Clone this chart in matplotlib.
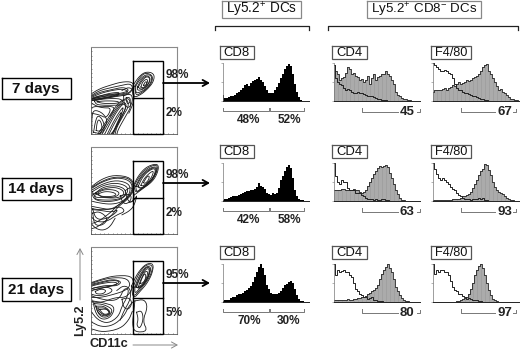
import matplotlib
matplotlib.use("Agg")
import matplotlib.pyplot as plt
import numpy as np

plt.rcParams['font.family'] = ['Liberation Sans', 'DejaVu Sans']
plt.rcParams['mathtext.default'] = 'regular'

# row labels and the numbers printed on the panels
days = ["7 days", "14 days", "21 days"]
gate_hi = ["98%", "98%", "95%"]
gate_lo = ["2%", "2%", "5%"]
cd8_neg = ["48%", "42%", "70%"]
cd8_pos = ["52%", "58%", "30%"]
cd4_pct = ["45", "63", "80"]
f480_pct = ["67", "93", "97"]

# histograms, height in percent of the panel
cd8_hist = [
    [15, 8, 8, 10, 12, 14, 16, 20, 25, 30, 35, 42, 45, 40, 48, 52, 55, 58, 62, 55, 50, 40, 30, 22, 20, 22, 28, 38,
     48, 60, 72, 85, 92, 98, 92, 72, 45, 25, 10, 3, 1, 0, 0, 0],
    [2, 5, 6, 8, 10, 12, 12, 14, 16, 18, 20, 24, 26, 26, 30, 30, 32, 38, 48, 40, 38, 32, 22, 18, 16, 20, 18, 22, 35,
     55, 65, 80, 90, 95, 88, 60, 30, 12, 5, 3, 2, 1, 1, 0],
    [3, 5, 4, 6, 10, 12, 14, 18, 20, 22, 24, 28, 32, 36, 42, 52, 65, 80, 92, 100, 90, 70, 45, 35, 25, 22, 20, 22, 24,
     28, 36, 45, 48, 52, 55, 50, 35, 18, 8, 3, 2, 1, 0, 0],
]
cd4_fill = [
    [95, 80, 70, 55, 60, 62, 75, 90, 85, 70, 75, 65, 62, 55, 58, 50, 55, 65, 45, 60, 72, 55, 62, 65, 70, 72, 78, 72,
     65, 55, 45, 25, 15, 12, 8, 5, 5, 3, 2, 1, 1, 0, 0, 0],
    [30, 30, 28, 30, 32, 32, 30, 28, 28, 30, 32, 28, 28, 25, 20, 25, 30, 40, 50, 60, 72, 80, 88, 92, 90, 92, 95, 90,
     75, 60, 45, 30, 18, 8, 3, 2, 1, 0, 0, 0, 0, 0, 0, 0],
    [5, 5, 6, 5, 5, 5, 6, 7, 6, 6, 8, 8, 10, 10, 12, 14, 16, 20, 25, 28, 32, 38, 45, 60, 75, 85, 92, 100, 90, 80, 60,
     40, 28, 18, 10, 5, 3, 2, 1, 0, 0, 0, 0, 0],
]
cd4_open = [
    [95, 60, 50, 45, 42, 35, 30, 32, 28, 25, 22, 20, 25, 22, 20, 18, 15, 14, 12, 12, 10, 8, 6, 5, 3, 3, 2, 1, 1, 1,
     0, 0, 0, 0, 0, 0, 0, 0, 0, 0, 0, 0, 0, 0],
    [100, 65, 50, 45, 55, 50, 50, 35, 30, 30, 28, 22, 22, 20, 15, 12, 8, 6, 5, 4, 3, 4, 3, 3, 5, 4, 3, 2, 1, 0, 0, 0,
     0, 0, 0, 0, 0, 0, 0, 0, 0, 0, 0, 0],
    [100, 70, 85, 80, 82, 85, 80, 78, 72, 65, 50, 35, 28, 22, 18, 14, 14, 8, 10, 12, 6, 5, 3, 3, 2, 1, 0, 0, 0, 0, 0,
     0, 0, 0, 0, 0, 0, 0, 0, 0, 0, 0, 0, 0],
]
f480_fill = [
    [25, 30, 30, 28, 30, 32, 35, 30, 35, 38, 42, 40, 45, 50, 45, 48, 50, 55, 52, 55, 60, 62, 65, 72, 80, 90, 95, 98, 80,
     70, 60, 50, 40, 30, 32, 25, 20, 15, 10, 6, 5, 3, 2, 0],
    [3, 3, 2, 2, 2, 2, 2, 3, 3, 3, 4, 4, 5, 6, 8, 12, 14, 15, 18, 25, 35, 45, 55, 68, 78, 85, 98, 95, 82, 68, 50, 38,
     30, 25, 22, 18, 12, 8, 5, 3, 2, 1, 0, 0],
    [0, 0, 0, 0, 0, 0, 0, 0, 0, 1, 1, 1, 2, 3, 5, 8, 10, 14, 22, 35, 50, 70, 85, 95, 100, 90, 72, 50, 32, 18, 8, 4, 2,
     1, 0, 0, 0, 0, 0, 0, 0, 0, 0, 0],
]
f480_open = [
    [100, 95, 90, 85, 80, 80, 82, 78, 75, 72, 60, 45, 35, 30, 28, 25, 22, 20, 18, 15, 14, 12, 10, 8, 6, 4, 3, 2, 1, 0,
     0, 0, 0, 0, 0, 0, 0, 0, 0, 0, 0, 0, 0, 0],
    [100, 85, 72, 60, 55, 60, 55, 50, 45, 38, 32, 28, 22, 16, 12, 8, 6, 5, 4, 3, 6, 5, 4, 8, 6, 8, 3, 2, 1, 0, 0, 0, 0,
     0, 0, 0, 0, 0, 0, 0, 0, 0, 0, 0],
    [100, 75, 85, 80, 85, 85, 80, 78, 70, 55, 40, 32, 28, 22, 20, 15, 12, 8, 10, 8, 6, 5, 4, 3, 2, 1, 0, 0, 0, 0, 0, 0,
     0, 0, 0, 0, 0, 0, 0, 0, 0, 0, 0, 0],
]

# contour lines, percent of the panel
contours_7 = [
    [(49, 56), (55, 65), (62, 71), (70, 71), (74, 67), (72, 59), (66, 52), (59, 46), (51, 42), (48, 46), (49, 56)],
    [(51, 55), (56, 64), (62, 70), (69, 69), (72, 65), (70, 58), (65, 52), (58, 47), (52, 44), (51, 55)],
    [(52, 55), (57, 63), (63, 68), (69, 68), (71, 64), (69, 58), (64, 52), (57, 48), (52, 47), (52, 55)],
    [(54, 54), (58, 62), (64, 67), (68, 66), (69, 62), (66, 56), (60, 51), (54, 50), (54, 54)],
    [(55, 54), (59, 61), (64, 66), (68, 65), (68, 60), (64, 54), (58, 51), (55, 54)],
    [(58, 54), (60, 60), (64, 63), (66, 62), (65, 57), (61, 53), (58, 54)],
    [(61, 56), (63, 60), (65, 60), (64, 56), (61, 56)],
    [(0, 46), (10, 52), (22, 56), (36, 60), (48, 60), (50, 54), (44, 47), (36, 45), (22, 43), (10, 41), (0, 38)],
    [(0, 44), (10, 50), (22, 53), (36, 56), (46, 58), (49, 52), (44, 46), (36, 44), (22, 42), (10, 40), (0, 38)],
    [(0, 43), (10, 48), (24, 51), (38, 54), (45, 50), (36, 47), (22, 45), (8, 42), (0, 40)],
    [(0, 42), (12, 47), (24, 50), (38, 52), (44, 48), (36, 46), (22, 44), (8, 42), (0, 40)],
    [(0, 40), (8, 43), (22, 47), (34, 48), (30, 45), (16, 41), (0, 39)],
    [(0, 41), (10, 44), (24, 46), (34, 46), (28, 43), (14, 41), (0, 40)],
    [(4, 38), (12, 40), (26, 41), (36, 40), (38, 34), (30, 33), (14, 33), (6, 34), (4, 38)],
    [(7, 37), (14, 38), (26, 38), (33, 37), (30, 35), (14, 35), (7, 37)],
    [(8, 0), (16, 12), (26, 28), (34, 38), (44, 42), (47, 32), (40, 20), (32, 6), (30, 0)],
    [(10, 0), (18, 12), (28, 28), (36, 38), (42, 40), (44, 32), (38, 22), (30, 8), (28, 0)],
    [(13, 0), (20, 12), (29, 27), (37, 37), (42, 34), (36, 20), (29, 7), (26, 0)],
    [(16, 0), (22, 12), (30, 26), (38, 36), (41, 30), (34, 18), (28, 6), (24, 0)],
    [(19, 0), (25, 12), (32, 24), (38, 32), (36, 24), (30, 12), (25, 0)],
    [(21, 0), (27, 12), (33, 22), (36, 26), (33, 16), (27, 4), (23, 0)],
    [(3, 2), (5, 14), (8, 22), (14, 16), (16, 6), (12, 0), (3, 2)],
    [(6, 4), (7, 13), (9, 17), (12, 13), (13, 6), (10, 3), (6, 4)],
    [(1, 0), (1, 22), (4, 28), (14, 24), (20, 14), (10, 0)],
    [(0, 30), (6, 32), (14, 30), (24, 30), (18, 18), (10, 22), (0, 24)],
    [(0, 36), (8, 31), (22, 32), (28, 30), (22, 20)],
    [(38, 44), (44, 46), (48, 44), (48, 36), (44, 30), (40, 32), (38, 38), (38, 44)],
    [(41, 42), (45, 42), (46, 38), (43, 34), (41, 38), (41, 42)],
    [(36, 50), (44, 54), (50, 50), (50, 38), (46, 28), (44, 24)],
]
contours_14 = [
    [(49, 55), (55, 67), (64, 77), (76, 81), (79, 77), (76, 67), (70, 59), (60, 52), (52, 46), (49, 44), (49, 55)],
    [(50, 55), (56, 66), (64, 75), (75, 80), (78, 76), (74, 66), (68, 58), (59, 52), (52, 47), (50, 55)],
    [(52, 55), (57, 65), (65, 74), (75, 78), (77, 74), (73, 65), (66, 58), (58, 52), (53, 48), (52, 55)],
    [(53, 55), (58, 65), (66, 73), (74, 77), (76, 73), (72, 64), (65, 57), (58, 52), (53, 55)],
    [(55, 55), (59, 64), (66, 72), (74, 76), (75, 71), (71, 63), (64, 56), (58, 52), (55, 55)],
    [(58, 56), (62, 64), (68, 70), (73, 73), (71, 66), (66, 59), (60, 55), (58, 56)],
    [(61, 59), (65, 66), (68, 67), (67, 62), (63, 58), (61, 59)],
    [(0, 54), (12, 63), (27, 68), (47, 65), (51, 52), (43, 40), (31, 31), (24, 21), (8, 8), (0, 6)],
    [(0, 53), (13, 61), (28, 66), (46, 64), (50, 52), (43, 41), (31, 33), (22, 24), (8, 14), (0, 12)],
    [(0, 52), (13, 60), (29, 65), (45, 62), (49, 52), (42, 41), (32, 33), (22, 28), (6, 28), (0, 30)],
    [(0, 50), (14, 58), (30, 62), (44, 58), (46, 50), (42, 42), (34, 36), (22, 34), (8, 36), (0, 38)],
    [(2, 49), (14, 56), (29, 59), (42, 55), (43, 48), (36, 40), (22, 37), (8, 38), (2, 42), (2, 49)],
    [(5, 47), (14, 54), (28, 56), (40, 52), (40, 43), (28, 39), (14, 39), (4, 40), (5, 47)],
    [(3, 46), (14, 52), (28, 54), (38, 50), (38, 44), (28, 41), (14, 42), (5, 42), (3, 46)],
    [(6, 46), (14, 51), (27, 51), (34, 47), (28, 42), (14, 42), (6, 46)],
    [(8, 46), (16, 49), (26, 48), (30, 45), (24, 43), (12, 43), (8, 46)],
    [(0, 32), (10, 30), (22, 28), (34, 32), (40, 26), (30, 22), (18, 14), (6, 14), (0, 20)],
    [(2, 28), (12, 27), (24, 25), (32, 28), (26, 22), (16, 17), (6, 17), (2, 28)],
    [(2, 24), (10, 26), (20, 18), (14, 10), (4, 10), (2, 24)],
    [(0, 12), (6, 6), (14, 4), (22, 8), (28, 18)],
    [(40, 50), (46, 54), (50, 50), (50, 40), (46, 36), (42, 40), (40, 50)],
    [(34, 44), (42, 46), (47, 44), (46, 38), (40, 34), (36, 38), (34, 44)],
    [(44, 36), (50, 38), (54, 46), (50, 32), (44, 26), (36, 22)],
]
contours_21 = [
    [(47, 55), (54, 70), (64, 81), (73, 81), (71, 69), (65, 58), (58, 50), (49, 40), (47, 55)],
    [(49, 54), (55, 69), (64, 80), (72, 79), (70, 69), (64, 59), (58, 52), (49, 42), (49, 54)],
    [(51, 54), (56, 67), (64, 78), (70, 77), (68, 68), (63, 59), (57, 53), (51, 46), (51, 54)],
    [(52, 54), (57, 66), (64, 77), (69, 76), (67, 67), (62, 58), (56, 53), (52, 54)],
    [(53, 54), (57, 65), (64, 75), (68, 75), (67, 67), (62, 58), (56, 52), (53, 54)],
    [(55, 54), (58, 63), (63, 72), (66, 72), (65, 65), (60, 57), (55, 54)],
    [(57, 58), (60, 66), (63, 70), (64, 65), (61, 59), (57, 58)],
    [(0, 59), (12, 63), (27, 67), (47, 67), (50, 58), (46, 48), (40, 42), (28, 42), (12, 36), (0, 37)],
    [(0, 58), (12, 62), (26, 65), (42, 64), (46, 56), (40, 50), (28, 46), (12, 42), (0, 42)],
    [(0, 57), (12, 60), (26, 63), (36, 60), (30, 55), (18, 56), (8, 54), (0, 52)],
    [(0, 56), (12, 59), (26, 62), (34, 60), (28, 56), (18, 54), (8, 52), (0, 50)],
    [(0, 55), (12, 58), (26, 60), (32, 58), (22, 55), (10, 52), (0, 50)],
    [(0, 52), (8, 54), (20, 54), (26, 50), (18, 45), (6, 44), (0, 46)],
    [(5, 49), (12, 52), (18, 50), (14, 46), (6, 46), (5, 49)],
    [(0, 44), (12, 40), (26, 38), (34, 42), (38, 52), (44, 52), (42, 42), (36, 32), (32, 20), (20, 12), (8, 16), (0, 26)],
    [(2, 38), (14, 36), (28, 32), (24, 20), (14, 16), (6, 22), (2, 38)],
    [(4, 35), (15, 34), (26, 28), (20, 19), (10, 20), (4, 35)],
    [(6, 32), (16, 32), (24, 24), (16, 20), (8, 24), (6, 32)],
    [(8, 30), (17, 30), (23, 24), (16, 21), (9, 26), (8, 30)],
    [(10, 28), (18, 29), (22, 24), (15, 22), (10, 28)],
    [(0, 14), (12, 8), (26, 10), (38, 20), (44, 32), (50, 38)],
    [(0, 6), (14, 2), (34, 6), (44, 16), (48, 26)],
    [(36, 40), (44, 42), (48, 36), (44, 28), (38, 30), (36, 40)],
    [(30, 50), (38, 56), (46, 52), (46, 40), (38, 26), (34, 16)],
    [(51, 38), (62, 40), (66, 31), (60, 15), (66, 3), (51, 2), (48, 11), (50, 27), (51, 38)],
    [(53, 25), (59, 27), (61, 17), (57, 6), (53, 10), (55, 17), (53, 25)],
]
contours = [contours_7, contours_14, contours_21]

row_flow_top = [47, 147, 247]
row_box_top = [46, 145, 246]
row_hist_top = [63, 163, 264]
row_label_box = [(78, 99), (178, 200), (278, 301)]

DPI = 100
W, H = 520, 350
fig = plt.figure(figsize=(W / DPI, H / DPI), dpi=DPI, facecolor='white')


def px_axes(x0, y0, x1, y1):
    # axes from pixel box, y counted from the top like the picture
    return fig.add_axes([x0 / W, 1 - y1 / H, (x1 - x0) / W, (y1 - y0) / H])


def smooth(line):
    # corner cutting so the hand read contours do not look angular
    pts = np.array(line, dtype=float)
    for _ in range(2):
        q = 0.75 * pts[:-1] + 0.25 * pts[1:]
        r = 0.25 * pts[:-1] + 0.75 * pts[1:]
        mid = np.empty((2 * len(q), 2))
        mid[0::2] = q
        mid[1::2] = r
        pts = np.vstack([pts[:1], mid, pts[-1:]])
    return pts


def draw_flow(x0, y0, lines):
    ax = px_axes(x0, y0, x0 + 86, y0 + 87)
    for line in lines:
        pts = smooth(line)
        ax.plot(pts[:, 0], pts[:, 1], color='#1c1c1c', lw=0.6, clip_on=True)
    ax.set_xlim(0, 100)
    ax.set_ylim(0, 100)
    for side in ['top', 'right']:
        ax.spines[side].set_color('#8a8a8a')
        ax.spines[side].set_linewidth(0.8)
    for side in ['left', 'bottom']:
        ax.spines[side].set_color('#555555')
        ax.spines[side].set_linewidth(0.6)
    ax.set_xticks(np.arange(0, 101, 5))
    ax.set_yticks(np.arange(0, 101, 5))
    ax.tick_params(length=1, width=0.4, color='#333333', direction='in', labelleft=False, labelbottom=False)
    return ax


def draw_hist(x0, y0, fill, line=None, color='black'):
    ax = px_axes(x0, y0, x0 + 86, y0 + 38)
    xs = np.linspace(0, 100, len(fill))
    ax.fill_between(xs, fill, color=color, lw=0, step='mid')
    if line is not None:
        ax.vlines(xs[::2], 0, fill[::2], color='#989898', lw=0.4)
        ax.step(xs, fill, where='mid', color='#222222', lw=0.6)
        ax.step(np.linspace(0, 100, len(line)), line, where='mid', color='#222222', lw=0.7)
    ax.set_xlim(0, 100)
    ax.set_ylim(0, 100)
    for side in ['top', 'right']:
        ax.spines[side].set_visible(False)
    ax.spines['left'].set_color('#777777')
    ax.spines['left'].set_linewidth(0.5)
    ax.spines['bottom'].set_color('#222222')
    ax.spines['bottom'].set_linewidth(0.7)
    ax.set_xticks([])
    ax.set_yticks([0, 50, 100])
    ax.tick_params(length=1.5, width=0.4, color='#777777', labelleft=False)
    return ax


for i in range(3):
    draw_flow(91, row_flow_top[i], contours[i])
    draw_hist(223, row_hist_top[i], cd8_hist[i])
    draw_hist(334, row_hist_top[i], cd4_fill[i], cd4_open[i], color='#ababab')
    draw_hist(433, row_hist_top[i], f480_fill[i], f480_open[i], color='#ababab')

# overlay in pixel coordinates for the boxes, gates, arrows and labels
ov = fig.add_axes([0, 0, 1, 1], facecolor='none')
ov.set_xlim(0, W)
ov.set_ylim(H, 0)
ov.axis('off')


def box(x0, y0, x1, y1, edge='black', lw=1.0):
    ov.plot([x0, x1, x1, x0, x0], [y0, y0, y1, y1, y0], color=edge, lw=lw, solid_joinstyle='miter')


def labelled_box(x0, y0, x1, y1, text, size=9.4, edge='#555555', lw=0.9, weight='normal'):
    box(x0, y0, x1, y1, edge, lw)
    ov.text((x0 + x1) / 2, (y0 + y1) / 2 + 0.3, text, ha='center', va='center', fontsize=size, weight=weight,
            color='#111111')


def arrow(x0, y0, x1, y1, color='black', lw=1.3, style='->,head_length=0.4,head_width=0.22'):
    ov.annotate('', xy=(x1, y1), xytext=(x0, y0), arrowprops=dict(arrowstyle=style, color=color, lw=lw,
                                                                 shrinkA=0, shrinkB=0))


for i in range(3):
    y_top, y_bot = row_label_box[i]
    labelled_box(1.5, y_top, 71, y_bot, days[i], size=11, edge='black', lw=1.0, weight='bold')

    # gate on the dot plot
    ft = row_flow_top[i]
    box(133, ft + 14, 163, ft + 87, 'black', 1.0)
    ov.plot([133, 163], [ft + 51, ft + 51], color='black', lw=1.0)
    ov.text(166, ft + 27.5, gate_hi[i], ha='left', va='center', fontsize=8.5, weight='bold', color='#222222')
    ov.text(166, ft + 65.5, gate_lo[i], ha='left', va='center', fontsize=8.5, weight='bold', color='#222222')
    arrow(163, ft + 36, 210, ft + 36)

    # panel name boxes
    bt = row_box_top[i]
    labelled_box(220, bt, 254, bt + 13, "CD8")
    labelled_box(332, bt, 367, bt + 13, "CD4")
    labelled_box(431, bt, 471, bt + 13, "F4/80", size=9.2)

    # CD8 bracket under the histogram
    base = row_hist_top[i] + 38
    y_b = base + 10
    ov.plot([223, 223, 269, 269], [y_b - 3, y_b, y_b, y_b - 3], color='#777777', lw=0.7)
    ov.plot([270, 270, 304, 304], [y_b - 3, y_b, y_b, y_b - 3], color='#777777', lw=0.7)
    ov.text(249, y_b + 9, cd8_neg[i], ha='center', va='center', fontsize=8.5, weight='bold', color='#222222')
    ov.text(289, y_b + 9, cd8_pos[i], ha='center', va='center', fontsize=8.5, weight='bold', color='#222222')

    # positive gates on CD4 and F4/80
    y_g = base + 11
    ov.plot([362, 362, 398], [y_g - 4, y_g, y_g], color='#777777', lw=0.7)
    ov.plot([417, 420, 420], [y_g, y_g, y_g - 3], color='#777777', lw=0.7)
    ov.text(407, y_g, cd4_pct[i], ha='center', va='center', fontsize=9.5, weight='bold', color='#222222')
    ov.plot([461, 461, 495], [y_g - 4, y_g, y_g], color='#777777', lw=0.7)
    ov.text(505, y_g, f480_pct[i], ha='center', va='center', fontsize=9.5, weight='bold', color='#222222')
    ov.plot([513, 516, 516], [y_g, y_g, y_g - 3], color='#777777', lw=0.7)

# headers and their brackets
labelled_box(222, 0.5, 301, 18, "Ly5.2$^{+}$ DCs", size=9.8, edge='#888888')
labelled_box(367, 0.5, 481, 18, "Ly5.2$^{+}$ CD8$^{-}$ DCs", size=9.6, edge='#888888')
ov.plot([215, 215, 309, 309], [30, 26, 26, 30], color='#222222', lw=0.9)
ov.plot([328, 328, 518, 518], [30, 26, 26, 30], color='#222222', lw=0.9)

# axis names of the dot plots
ov.text(80, 320, "Ly5.2", rotation=90, ha='center', va='center', fontsize=9, weight='bold', color='#222222')
ov.text(90, 344, "CD11c", ha='left', va='center', fontsize=9.2, weight='bold', color='#222222')
arrow(80, 300, 80, 248, color='#888888', lw=0.7)
arrow(133, 345, 178, 345, color='#888888', lw=0.7)

fig.savefig("out.png", dpi=DPI)
